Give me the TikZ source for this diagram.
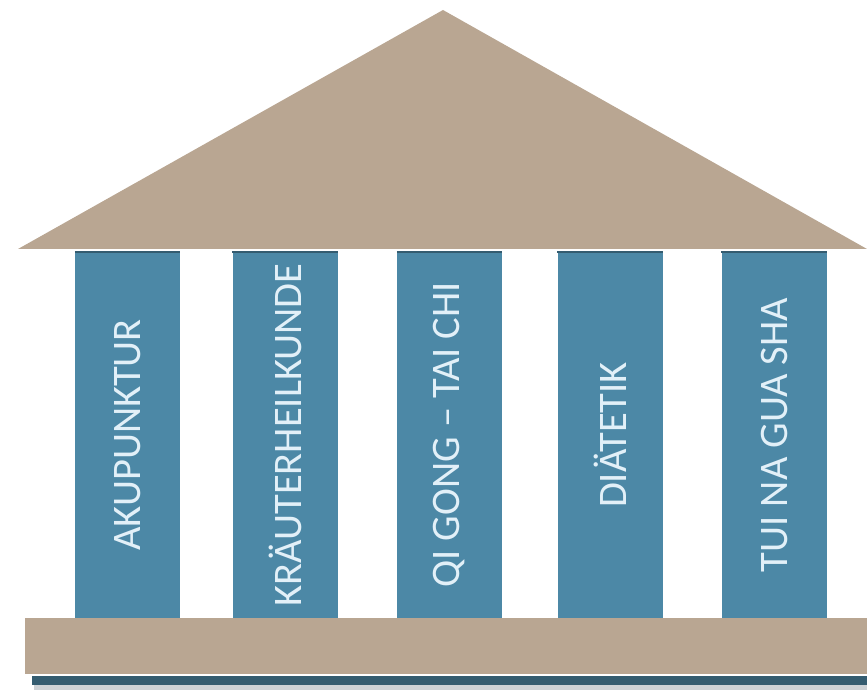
\documentclass[tikz,border=0pt]{standalone}
\usepackage{fontspec}
\setmainfont{Carlito}
\usepackage{tikz}
\usetikzlibrary{positioning}

\definecolor{roofbrown}{RGB}{185,166,146}
\definecolor{pillarblue}{RGB}{76,136,166}
\definecolor{pillaredge}{RGB}{52,92,112}
\definecolor{pillartext}{RGB}{226,240,248}
\definecolor{shadowgray}{RGB}{205,210,214}

\tikzset{
  pillar/.style={rectangle, fill=pillarblue, rotate=90, inner sep=0pt,
    minimum width=366pt, minimum height=105pt,
    text=pillartext, font=\fontsize{40.5}{42}\selectfont},
}

\begin{document}
\begin{tikzpicture}[x=1pt, y=-1pt]
		
		\useasboundingbox (0,0) rectangle (867,692);
		
		% roof
		\fill[roofbrown] (18,249) -- (443,10) -- (867,249) -- cycle;
		
		\node[pillar] (c1) at (127.5,435) {AKUPUNKTUR};
		
		\node[pillar] (c2) at (285,435) {KRÄUTERHEILKUNDE};
		
		\node[pillar] (c3) at (449.5,435) {QI GONG – TAI CHI};
		
		\node[pillar] (c4) at (610,435) {DIÄTETIK};
		
		\node[pillar] (c5) at (774,435) {TUI NA GUA SHA};
		
		% dark line under the roof
		\foreach \c in {c1,c2,c3,c4,c5}
		\draw[pillaredge, line width=2.5pt] (\c.north east) -- (\c.south east);
		
		% base
		\fill[shadowgray] (34,684) rectangle (867,690);
		\fill[pillaredge] (32,676) rectangle (867,685);
		\fill[roofbrown] (25,618) rectangle (867,674);
		
	\end{tikzpicture}
\end{document}
